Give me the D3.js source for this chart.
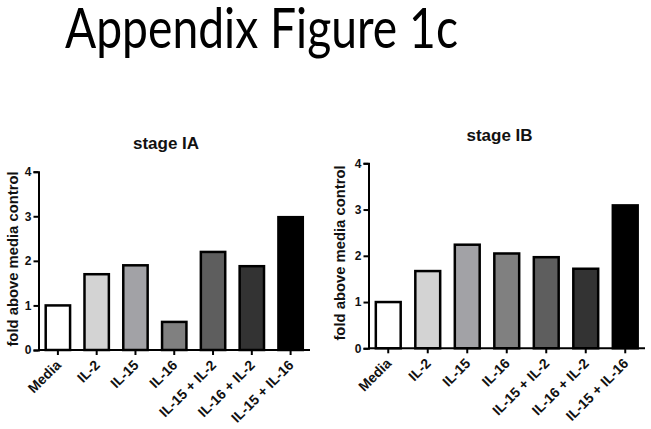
<!DOCTYPE html>
<html>
<head>
<meta charset="utf-8">
<script src="https://cdn.jsdelivr.net/npm/d3@7"></script>
<style>
  body { margin: 0; background: #fff; }
  text { font-family: Arial, "Liberation Sans", sans-serif; }
</style>
</head>
<body>
<script>
const width = 651;
const height = 429;

// data
const categories = ['Media', 'IL-2', 'IL-15', 'IL-16', 'IL-15 + IL-2', 'IL-16 + IL-2', 'IL-15 + IL-16'];
const stageIA = [1.0, 1.70, 1.90, 0.63, 2.20, 1.88, 2.98];
const stageIB = [1.0, 1.67, 2.24, 2.05, 1.97, 1.72, 3.09];
const barColors = ['#ffffff', '#d3d3d3', '#a2a2a6', '#808080', '#5e5e5e', '#333333', '#000000'];
const yTicks = [0, 1, 2, 3, 4];

const svg = d3.select('body')
    .append('svg')
    .attr('width', width)
    .attr('height', height);

svg.append('text')
    .attr('x', 65)
    .attr('y', 48)
    .attr('textLength', 393)
    .attr('lengthAdjust', 'spacingAndGlyphs')
    .style('font-family', 'Lato, "Open Sans", sans-serif')
    .style('font-size', '57px')
    .text('Appendix Figure 1c');

function drawPanel(title, values, box) {
    const g = svg.append('g');
    const x = d3.scaleBand()
        .domain(categories)
        .range([box.x0, box.x1])
        .paddingInner(0.32)
        .paddingOuter(0.16);
    const y = d3.scaleLinear()
        .domain([0, 4])
        .range([box.y0, box.y1]);

    g.selectAll('rect')
        .data(values)
        .enter()
        .append('rect')
        .attr('x', (d, i) => x(categories[i]) + 1)
        .attr('y', d => y(d))
        .attr('width', x.bandwidth() - 2)
        .attr('height', d => box.y0 - y(d))
        .attr('fill', (d, i) => barColors[i])
        .attr('stroke', 'black')
        .attr('stroke-width', 2.5);

    const yAxis = g.append('g')
        .attr('transform', `translate(${box.x0},0)`)
        .call(d3.axisLeft(y).tickValues(yTicks).tickFormat(d3.format('d')).tickSize(5).tickPadding(2));
    const xAxis = g.append('g')
        .attr('transform', `translate(0,${box.y0})`)
        .call(d3.axisBottom(x).tickSize(5).tickFormat(''));
    [yAxis, xAxis].forEach(a => {
        a.select('.domain').attr('stroke-width', 2).attr('stroke', 'black');
        a.selectAll('.tick line').attr('stroke-width', 2).attr('stroke', 'black');
    });
    yAxis.selectAll('.tick text')
        .style('font-size', '12px')
        .style('font-weight', 'bold')
        .attr('fill', '#111');
    xAxis.select('.domain').attr('d', `M${box.x0},0H${box.x1}`);

    g.selectAll('.xlab')
        .data(categories)
        .enter()
        .append('text')
        .attr('class', 'xlab')
        .attr('transform', d => `translate(${x(d) + x.bandwidth() / 2 + 4},${box.y0 + 16}) rotate(-45)`)
        .attr('text-anchor', 'end')
        .style('font-size', '14px')
        .style('font-weight', 'bold')
        .attr('fill', '#111')
        .text(d => d);

    g.append('text')
        .attr('x', box.titleX)
        .attr('y', box.titleY)
        .attr('text-anchor', 'middle')
        .style('font-size', '17px')
        .style('font-weight', 'bold')
        .attr('fill', '#111')
        .text(title);

    g.append('text')
        .attr('transform', `translate(${box.labX},${box.labY}) rotate(-90)`)
        .attr('text-anchor', 'middle')
        .style('font-size', '14.8px')
        .style('font-weight', 'bold')
        .attr('fill', '#111')
        .text('fold above media control');
}

drawPanel('stage IA', stageIA, {x0: 38.5, x1: 310, y0: 350, y1: 171.7, titleX: 166, titleY: 149, labX: 18, labY: 259});
drawPanel('stage IB', stageIB, {x0: 368.5, x1: 645, y0: 348.3, y1: 163.3, titleX: 499.5, titleY: 141, labX: 345, labY: 253});
</script>
</body>
</html>
